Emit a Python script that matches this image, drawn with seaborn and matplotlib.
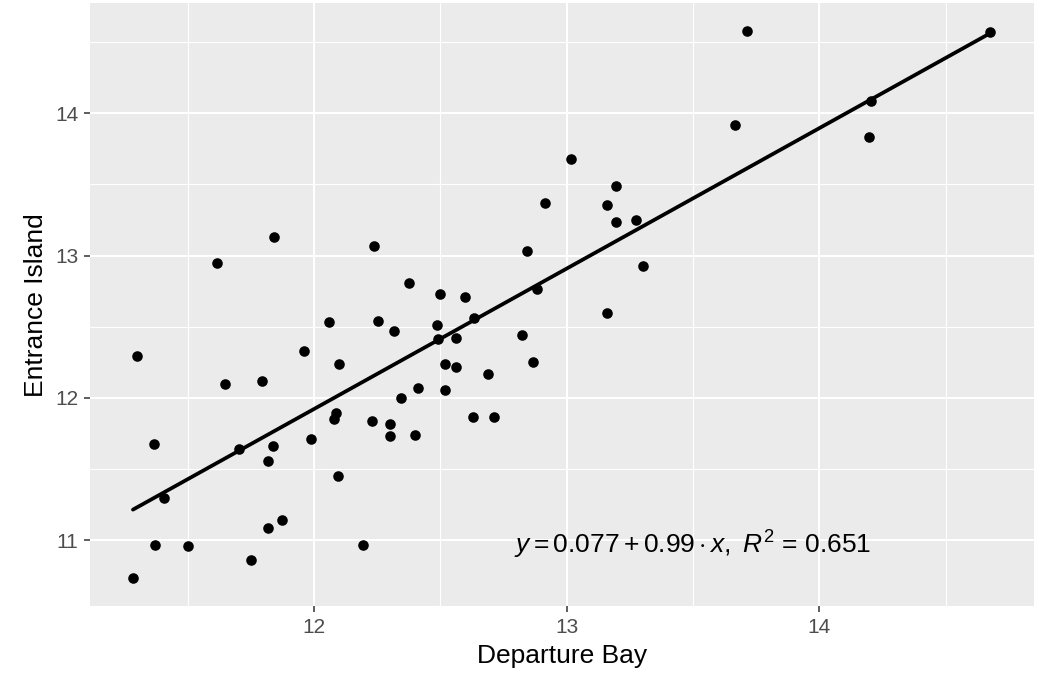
import seaborn as sns
import matplotlib.pyplot as plt
import pandas as pd
from matplotlib.ticker import MultipleLocator

# Daily values
departure_bay = [11.284, 11.300, 11.366, 11.371, 11.406, 11.503, 11.617, 11.647, 11.703, 11.753,
                 11.795, 11.818, 11.819, 11.839, 11.843, 11.875, 11.960, 11.989, 12.058, 12.079,
                 12.086, 12.095, 12.100, 12.193, 12.230, 12.239, 12.252, 12.303, 12.303, 12.315,
                 12.346, 12.375, 12.401, 12.410, 12.486, 12.490, 12.500, 12.520, 12.520, 12.561,
                 12.563, 12.598, 12.629, 12.632, 12.690, 12.714, 12.823, 12.844, 12.867, 12.884,
                 12.915, 13.017, 13.161, 13.161, 13.194, 13.196, 13.274, 13.303, 13.665, 13.715,
                 14.198, 14.204, 14.676]
entrance_island = [10.732, 12.297, 11.676, 10.966, 11.299, 10.961, 12.950, 12.098, 11.641, 10.861,
                   12.121, 11.086, 11.554, 11.660, 13.131, 11.142, 12.332, 11.713, 12.536, 11.852,
                   11.892, 11.453, 12.238, 10.966, 11.836, 13.067, 12.543, 11.817, 11.732, 12.472,
                   12.001, 12.810, 11.737, 12.070, 12.512, 12.412, 12.730, 12.236, 12.058, 12.423,
                   12.215, 12.711, 11.866, 12.564, 12.170, 11.864, 12.442, 13.034, 12.252, 12.765,
                   13.370, 13.681, 13.353, 12.597, 13.236, 13.491, 13.248, 12.925, 13.918, 14.578,
                   13.836, 14.086, 14.573]

eq_label = r'$y = 0.077 + 0.99 \cdot x,\ R^2$ = 0.651'

df = pd.DataFrame({'Departure Bay': departure_bay, 'Entrance Island': entrance_island})

sns.set_theme(style='darkgrid', rc={
    'axes.facecolor': '#EBEBEB',
    'grid.color': 'white',
    'axes.edgecolor': '#EBEBEB',
    'xtick.color': '#333333',
    'ytick.color': '#333333',
    'xtick.labelcolor': '#4D4D4D',
    'ytick.labelcolor': '#4D4D4D',
})
plt.rcParams['font.family'] = ['Liberation Sans', 'DejaVu Sans']
plt.rcParams['mathtext.fontset'] = 'custom'
plt.rcParams['mathtext.rm'] = 'Liberation Sans'
plt.rcParams['mathtext.it'] = 'Liberation Sans:italic'

fig = plt.figure(figsize=(10.43, 6.74), dpi=100)
ax = fig.add_axes([0.0863, 0.1009, 0.905, 0.8942])

sns.regplot(data=df, x='Departure Bay', y='Entrance Island', ax=ax, ci=None,
            scatter_kws={'s': 58, 'color': 'black', 'alpha': 1, 'linewidths': 0, 'zorder': 3},
            line_kws={'color': 'black', 'lw': 2.7, 'zorder': 2})

ax.text(13.5, 10.97, eq_label, ha='center', va='center', fontsize=19, color='black')

ax.set_xlim(11.114, 14.849)
ax.set_ylim(10.538, 14.773)
ax.xaxis.set_major_locator(MultipleLocator(1))
ax.yaxis.set_major_locator(MultipleLocator(1))
ax.xaxis.set_minor_locator(MultipleLocator(0.5))
ax.yaxis.set_minor_locator(MultipleLocator(0.5))
ax.grid(which='major', color='white', lw=1.5)
ax.grid(which='minor', color='white', lw=0.8)
ax.tick_params(which='major', length=4, width=1.1, labelsize=15, pad=4.5, bottom=True, left=True)
ax.tick_params(which='minor', length=0)
for s in ax.spines.values():
    s.set_visible(False)

ax.set_xlabel('Departure Bay', fontsize=19, color='black', labelpad=5)
ax.set_ylabel('Entrance Island', fontsize=19, color='black', labelpad=5)

fig.savefig('out.png', dpi=100)
